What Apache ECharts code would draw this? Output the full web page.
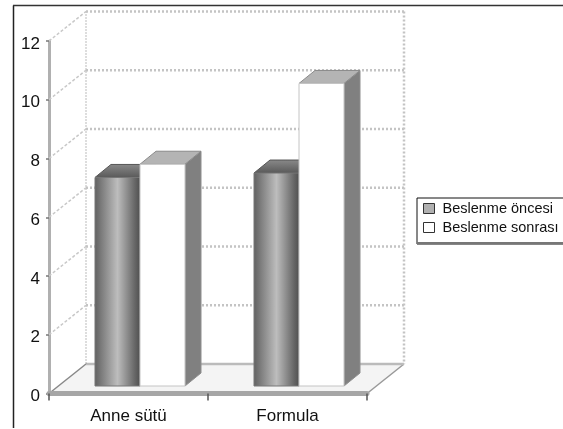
<!DOCTYPE html>
<html>
<head>
<meta charset="utf-8">
<title>Beslenme</title>
<script src="https://cdn.jsdelivr.net/npm/echarts@6/dist/echarts.min.js"></script>
<style>
  html, body { margin: 0; padding: 0; background: #fff; }
  /* the source is a soft scan, so take the edge off */
  #chart { width: 563px; height: 429px; filter: blur(0.45px); }
</style>
</head>
<body>
<div id="chart"></div>
<script>
const categories = ['Anne sütü', 'Formula']
const beslenmeOncesi = [7.1, 7.25]
const beslenmeSonrasi = [7.55, 10.3]
const yTicks = [0, 2, 4, 6, 8, 10, 12]

// depth of the fake 3d box, in px
const DEPTH_X = 37
const DEPTH_Y = 29.5
const BAR_SHIFT_X = 11.5
const BAR_SHIFT_Y = 7.5
const BAR_DEPTH_X = 16
const BAR_DEPTH_Y = 13
const BAR_W = 45

const font = '"Liberation Sans", Arial, sans-serif'

function poly(points, style) {
  return { type: 'polygon', shape: { points }, style }
}
function seg(x1, y1, x2, y2, stroke, lineWidth, lineDash) {
  return {
    type: 'line',
    shape: { x1, y1, x2, y2 },
    style: { stroke, lineWidth, lineDash, fill: null }
  }
}

// floor + back walls, one item per y tick
function renderWalls(params, api) {
  const r = params.coordSys
  const v = api.value(0)
  const y = api.coord([0, v])[1]
  const left = r.x, right = r.x + r.width
  const children = []
  if (v === 0) {
    children.push(poly([[left, y], [right, y], [right + DEPTH_X, y - DEPTH_Y], [left + DEPTH_X, y - DEPTH_Y]], { fill: '#f4f4f4' }))
    children.push(seg(left, y, left + DEPTH_X, y - DEPTH_Y, '#888', 1.5))
    children.push(seg(right, y, right + DEPTH_X, y - DEPTH_Y, '#999', 1.5))
    children.push(seg(left + DEPTH_X, y - DEPTH_Y, right + DEPTH_X, y - DEPTH_Y, '#bbb', 2.5))
    children.push(seg(left + DEPTH_X, r.y - DEPTH_Y, left + DEPTH_X, y - DEPTH_Y, '#777', 1, [1, 2]))
    children.push(seg(right + DEPTH_X, r.y - DEPTH_Y, right + DEPTH_X, y - DEPTH_Y, '#c4c4c4', 2.5, [2, 2]))
  } else {
    children.push(seg(left, y, left + DEPTH_X, y - DEPTH_Y, '#c8c8c8', 1.5, [3, 2]))
    children.push(seg(left + DEPTH_X, y - DEPTH_Y, right + DEPTH_X, y - DEPTH_Y, '#c4c4c4', 2.5, [2, 2]))
  }
  return { type: 'group', children }
}

function barRenderer(side, front, top, sideFill) {
  return function (params, api) {
    const base = api.coord([api.value(0), 0])
    const tip = api.coord([api.value(0), api.value(1)])
    const x0 = base[0] + BAR_SHIFT_X + (side === 0 ? -BAR_W : 0)
    const x1 = x0 + BAR_W
    const y0 = base[1] - BAR_SHIFT_Y
    const y1 = tip[1] - BAR_SHIFT_Y
    return {
      type: 'group',
      children: [
        poly([[x1, y0], [x1 + BAR_DEPTH_X, y0 - BAR_DEPTH_Y], [x1 + BAR_DEPTH_X, y1 - BAR_DEPTH_Y], [x1, y1]],
          { fill: sideFill, stroke: '#8e8e8e', lineWidth: 1 }),
        poly([[x0, y1], [x1, y1], [x1 + BAR_DEPTH_X, y1 - BAR_DEPTH_Y], [x0 + BAR_DEPTH_X, y1 - BAR_DEPTH_Y]],
          { fill: top, stroke: side === 0 ? '#555' : '#8a8a8a', lineWidth: 1 }),
        {
          type: 'rect',
          shape: { x: x0, y: y1, width: BAR_W, height: y0 - y1 },
          style: { fill: front, stroke: side === 0 ? '#777' : '#c4c4c4', lineWidth: 1 }
        }
      ]
    }
  }
}

const cylinder = new echarts.graphic.LinearGradient(0, 0, 1, 0, [
  { offset: 0, color: '#606060' },
  { offset: 0.5, color: '#bdbdbd' },
  { offset: 0.88, color: '#666' },
  { offset: 1, color: '#4e4e4e' }
])
const darkTop = new echarts.graphic.LinearGradient(0, 1, 0, 0, [
  { offset: 0, color: '#585858' },
  { offset: 1, color: '#8a8a8a' }
])

const options = {
  animation: false,
  textStyle: { fontFamily: font },
  grid: { left: 49, top: 41, width: 318, height: 352.5 },
  xAxis: {
    type: 'category',
    data: categories,
    offset: 1,
    axisLine: { lineStyle: { color: '#a6a6a6', width: 5 } },
    axisTick: { show: true, alignWithLabel: false, length: 7, lineStyle: { color: '#555', width: 1.5 } },
    axisLabel: { color: '#111', fontSize: 17, fontFamily: font, margin: 13 },
    z: 5
  },
  yAxis: {
    type: 'value',
    min: 0,
    max: 12,
    interval: 2,
    splitLine: { show: false },
    axisLine: { show: true, lineStyle: { color: '#b0b0b0', width: 3 } },
    axisTick: { show: true, length: 3, lineStyle: { color: '#777', width: 1.5 } },
    axisLabel: {
      margin: 9,
      formatter: '{n|{value}}',
      rich: { n: { color: '#111', fontSize: 17, fontFamily: font, padding: [6, 0, 0, 0] } }
    }
  },
  legend: {
    orient: 'vertical',
    left: 417,
    top: 198,
    padding: [3, 30, 9, 6],
    itemWidth: 11,
    itemHeight: 10,
    itemGap: 4,
    selectedMode: false,
    borderColor: '#111',
    borderWidth: 1,
    textStyle: { color: '#111', fontSize: 14.5, fontFamily: font, padding: [0, 0, 0, 3] },
    data: [
      { name: 'Beslenme öncesi', icon: 'rect', itemStyle: { color: '#b0b0b0', borderColor: '#333', borderWidth: 1 } },
      { name: 'Beslenme sonrası', icon: 'rect', itemStyle: { color: '#fff', borderColor: '#333', borderWidth: 1 } }
    ]
  },
  graphic: [
    { type: 'line', z: 10, shape: { x1: 13.5, y1: 5.5, x2: 13.5, y2: 428 }, style: { stroke: '#222', lineWidth: 1.5 } },
    { type: 'line', z: 10, shape: { x1: 13, y1: 5.5, x2: 563, y2: 5.5 }, style: { stroke: '#333', lineWidth: 1.5 } },
    { type: 'line', z: 10, shape: { x1: 417, y1: 243, x2: 563, y2: 243 }, style: { stroke: '#777', lineWidth: 2 } }
  ],
  series: [
    {
      type: 'custom',
      name: 'walls',
      coordinateSystem: 'cartesian2d',
      clip: false,
      silent: true,
      z: 1,
      encode: { y: 0 },
      data: yTicks.map(t => [t]),
      renderItem: renderWalls
    },
    {
      type: 'custom',
      name: 'Beslenme öncesi',
      coordinateSystem: 'cartesian2d',
      clip: false,
      z: 3,
      encode: { x: 0, y: 1 },
      itemStyle: { color: '#b0b0b0' },
      data: beslenmeOncesi.map((v, i) => [i, v]),
      renderItem: barRenderer(0, cylinder, darkTop, '#666')
    },
    {
      type: 'custom',
      name: 'Beslenme sonrası',
      coordinateSystem: 'cartesian2d',
      clip: false,
      z: 4,
      encode: { x: 0, y: 1 },
      itemStyle: { color: '#fff' },
      data: beslenmeSonrasi.map((v, i) => [i, v]),
      renderItem: barRenderer(1, '#fff', '#b4b4b4', '#808080')
    }
  ]
}

const chart = echarts.init(document.getElementById('chart'))
chart.setOption(options)
</script>
</body>
</html>
